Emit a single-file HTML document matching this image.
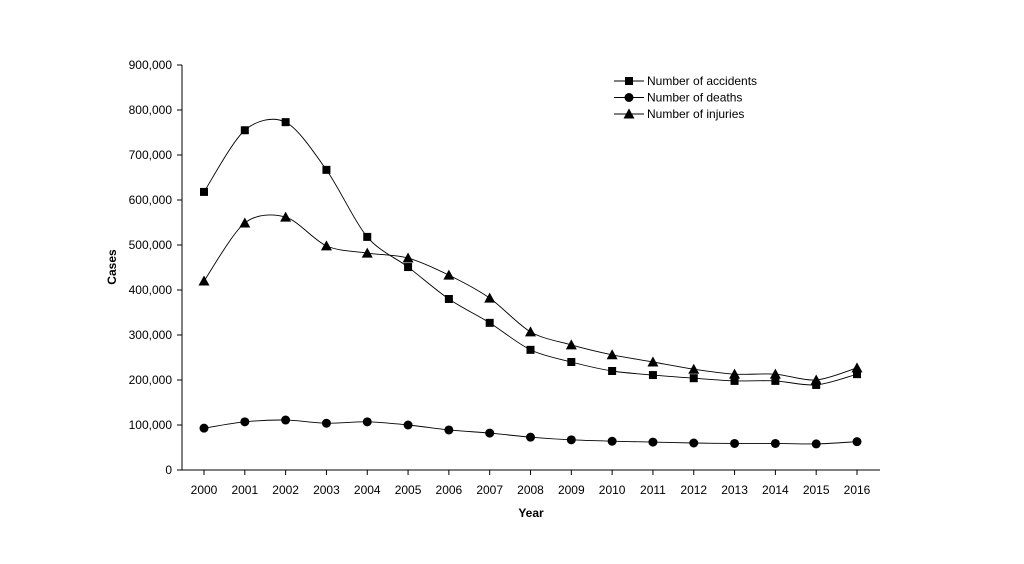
<!DOCTYPE html>
<html><head><meta charset="utf-8"><style>
body{margin:0;background:#fff}
svg{display:block;font-family:"Liberation Sans",Arial,sans-serif}
</style></head><body>
<svg id="chart" width="1024" height="564">
<g id="axes"></g><g id="series"></g><g id="legend"></g>
</svg>
<script>
const years=[2000,2001,2002,2003,2004,2005,2006,2007,2008,2009,2010,2011,2012,2013,2014,2015,2016];
const accidents=[618000,755000,773000,667000,518000,451000,380000,327000,267000,240000,220000,211000,204000,198000,198000,189000,213000];
const injuries=[420000,549000,562000,498000,482000,471000,433000,382000,307000,278000,256000,240000,224000,213000,213000,200000,227000];
const deaths=[93000,107000,111000,104000,107000,100000,89000,82000,73000,67000,64000,62000,60000,59000,59000,58000,63000];
const yTicks=[0,100000,200000,300000,400000,500000,600000,700000,800000,900000];
const NS='http://www.w3.org/2000/svg';
const x0=204,x1=857,yb=470,yt=65,ymax=900000;
function xs(i){return x0+(x1-x0)*i/(years.length-1);}
function ys(v){return yb-(yb-yt)*v/ymax;}
function mk(tag,attrs,parent){const e=document.createElementNS(NS,tag);for(const k in attrs)e.setAttribute(k,attrs[k]);parent.appendChild(e);return e;}
const axes=document.getElementById('axes'),ser=document.getElementById('series'),leg=document.getElementById('legend');
let e=mk('line',{x1:182,y1:yt,x2:182,y2:yb,stroke:'#000','stroke-width':1},axes);


e=mk('line',{x1:182,y1:yb,x2:880,y2:yb,stroke:'#000','stroke-width':1},axes);


yTicks.forEach(v=>{
 const y=ys(v);
 mk('line',{x1:177,y1:y,x2:182,y2:y,stroke:'#000'},axes);
 const t=mk('text',{x:172,y:y+4,'text-anchor':'end','font-size':12},axes);
 t.textContent=v.toLocaleString('en-US');
 
 
});
years.forEach((yr,i)=>{
 const x=xs(i);
 mk('line',{x1:x,y1:yb,x2:x,y2:yb+5,stroke:'#000'},axes);
 const t=mk('text',{x:x,y:494,'text-anchor':'middle','font-size':12},axes);
 t.textContent=yr;
 
 
});
e=mk('text',{x:531,y:517,'text-anchor':'middle','font-size':12,'font-weight':'bold'},axes);
e.textContent='Year';


e=mk('text',{x:116,y:267,'text-anchor':'middle','font-size':12,'font-weight':'bold',transform:'rotate(-90 116 267)'},axes);
e.textContent='Cases';


function pathD(vals){
 const p=vals.map((v,i)=>[xs(i),ys(v)]);
 let d='M'+p[0][0]+','+p[0][1];
 for(let i=0;i<p.length-1;i++){
  const a=p[i-1]||p[i],b=p[i],c=p[i+1],n=p[i+2]||c,t=0.15;
  d+=` C${b[0]+(c[0]-a[0])*t},${b[1]+(c[1]-a[1])*t} ${c[0]-(n[0]-b[0])*t},${c[1]-(n[1]-b[1])*t} ${c[0]},${c[1]}`;
 }
 return d;
}
function marker(kind,x,y,parent){
 if(kind==='square')return mk('rect',{x:x-4,y:y-4,width:8,height:8,fill:'#000'},parent);
 if(kind==='circle')return mk('circle',{cx:x,cy:y,r:4.5,fill:'#000'},parent);
 return mk('polygon',{points:`${x},${y-5.5} ${x-5.5},${y+4.5} ${x+5.5},${y+4.5}`,fill:'#000'},parent);
}
const seriesList=[['accidents',accidents,'square','Number of accidents'],['deaths',deaths,'circle','Number of deaths'],['injuries',injuries,'triangle','Number of injuries']];
seriesList.forEach(([name,vals,kind])=>{
 const p=mk('path',{d:pathD(vals),fill:'none',stroke:'#000','stroke-width':0.9},ser);
 
 
 vals.forEach((v,i)=>{
  const m=marker(kind,xs(i),ys(v),ser);
  
  
 });
});
seriesList.forEach(([name,vals,kind,label],k)=>{
 const y=81+k*16.5;
 const g=mk('g',{},leg);
 
 
 mk('line',{x1:614,y1:y,x2:644,y2:y,stroke:'#000'},g);
 marker(kind,629,y,g);
 const t=mk('text',{x:647,y:y+4,'font-size':12},g);
 t.textContent=label;
});
</script>
</body></html>
